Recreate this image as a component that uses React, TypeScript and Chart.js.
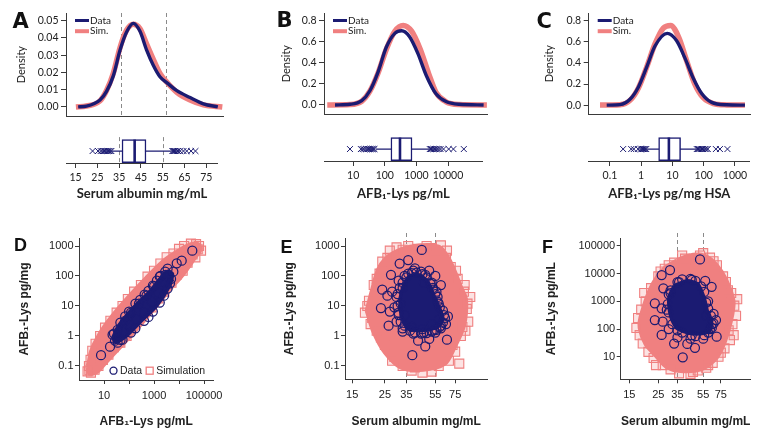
import React, { useEffect, useRef } from 'react';
import { Chart, registerables } from 'chart.js';

Chart.register(...registerables);

// ---------------- colours & fonts ----------------
const NAVY = '#1b1b72';
const PINK = '#f08080';
const PINK_FILL = 'rgba(240,128,128,0.22)';
const AXIS = '#3a3a3a';
const TEXT = '#222222';
const REF = '#8a8a8a';
const TOP_FONT = 'Lato, "Liberation Sans", sans-serif';
const BOT_FONT = '"Liberation Sans", Arial, sans-serif';

// ---------------- panel A: serum albumin density + box ----------------
const albuminDataX = [16, 19.7, 25.7, 28.6, 31.6, 34.6, 37.5, 40.5, 43.4, 46.4, 49.4, 52.3, 55.6, 59.8, 65.7, 71.6, 78];
const albuminDataDens = [0, 0.0004, 0.004, 0.009, 0.018, 0.033, 0.0435, 0.0485, 0.044, 0.033, 0.024, 0.0175, 0.0138, 0.0094, 0.0054, 0.0018, 0];
const albuminSimX = [15, 19.7, 25.7, 28.6, 31.6, 34.6, 37.5, 40.5, 43.4, 46.4, 49.4, 52.3, 55.6, 59.8, 65.7, 71.6, 80];
const albuminSimDens = [0, 0.0005, 0.0035, 0.0095, 0.0195, 0.0345, 0.0445, 0.048, 0.0455, 0.0365, 0.0275, 0.0195, 0.014, 0.0085, 0.004, 0.0012, 0];
// [whisker low, Q1, median, Q3, whisker high]
const albuminBoxStats = [31.6, 36.3, 42.1, 47.3, 59];
const albuminOutliers = [22.8, 25.3, 26.5, 27.3, 28, 28.6, 29.2, 29.8, 30.4, 31, 31.4, 59.4, 59.8, 60.2, 60.7, 61.3, 62, 63, 64.5, 66, 68, 70];
const albuminTicks = [15, 25, 35, 45, 55, 65, 75];
const albuminCutoffs = [35, 55];

// ---------------- panel B: AFB1-Lys pg/mL ----------------
const serumDataX = [2.6, 7.6, 17.4, 31, 55, 100, 182, 295, 513, 933, 1700, 3390, 6900, 17400, 100000];
const serumDataDens = [0, 0.006, 0.04, 0.135, 0.31, 0.55, 0.68, 0.705, 0.65, 0.49, 0.28, 0.106, 0.032, 0.006, 0];
const serumSimX = [1.5, 7.6, 17.4, 31, 55, 100, 182, 330, 600, 1100, 2000, 3390, 6900, 17400, 126000];
const serumSimDens = [0, 0.004, 0.035, 0.13, 0.3, 0.53, 0.7, 0.755, 0.7, 0.53, 0.3, 0.12, 0.03, 0.004, 0];
const serumBoxStats = [52.5, 156, 302, 725, 2500];
const serumOutliers = [7.9, 17.5, 20, 22.5, 26, 29, 32, 35, 38, 41, 44, 47, 2650, 2900, 3200, 3500, 3900, 4400, 5000, 5800, 7200, 10500, 14800, 31600];
const serumTicks = [10, 100, 1000, 10000];

// ---------------- panel C: AFB1-Lys pg/mg HSA ----------------
const hsaDataX = [0.0785, 0.208, 0.433, 0.796, 1.47, 2.7, 6.65, 13.2, 24.3, 44.7, 82.7, 172, 516, 1970];
const hsaDataDens = [0, 0.005, 0.055, 0.17, 0.36, 0.56, 0.68, 0.61, 0.445, 0.255, 0.11, 0.026, 0.003, 0];
const hsaSimX = [0.048, 0.208, 0.433, 0.796, 1.47, 2.7, 4.97, 8.5, 15.5, 27.5, 50, 93, 194, 516, 1970];
const hsaSimDens = [0, 0.003, 0.045, 0.16, 0.36, 0.58, 0.73, 0.755, 0.64, 0.42, 0.2, 0.07, 0.015, 0.002, 0];
const hsaBoxStats = [1.54, 3.62, 7.7, 18.2, 57];
const hsaOutliers = [0.265, 0.48, 0.58, 0.8, 0.95, 1.05, 1.15, 1.25, 1.35, 1.45, 60, 66, 72, 80, 88, 96, 108, 122, 135, 245, 330, 575];
const hsaTicks = [0.1, 1, 10, 100, 1000];

const densTicksA = [0, 0.01, 0.02, 0.03, 0.04, 0.05];
const densTicksBC = [0, 0.2, 0.4, 0.6, 0.8];

// ---------------- panel D: pg/mL vs pg/mg ----------------
type Pt = [number, number];
const simCloudD: Pt[] = [[2.3, 0.09], [3.0, 0.3], [6.5, 1.15], [22, 4.8], [100, 21], [480, 85], [2200, 300], [7500, 620], [25000, 1100], [58000, 1150], [72000, 760], [43600, 410], [14900, 115], [4370, 36], [940, 7.5], [203, 1.7], [43.6, 0.42], [12.8, 0.14], [5.1, 0.062], [2.6, 0.056]];
const simPointsD: Pt[] = [[2.2, 0.066], [2.6, 0.072], [3.0, 0.06], [2.5, 0.1], [2.9, 0.16], [3.4, 0.32], [4.2, 0.075], [4.6, 0.55], [6, 0.1], [7, 1.0], [9, 0.16], [11, 1.9], [15, 0.24], [18, 3.2], [25, 0.42], [32, 6], [45, 0.6], [55, 10], [80, 1.0], [90, 17], [130, 1.9], [160, 30], [250, 3.6], [300, 50], [450, 7], [550, 95], [800, 9], [1000, 150], [1500, 18], [1800, 260], [2600, 30], [3200, 420], [5000, 60], [6000, 560], [8000, 110], [10000, 800], [14000, 150], [16000, 1000], [22000, 280], [30000, 1200], [35000, 520], [48000, 1150], [63000, 1000], [56000, 780], [76000, 700], [45000, 420]];
const dataCoreD: Pt[] = [[22, 0.9], [37.4, 2.2], [149, 9], [692, 32], [2360, 115], [3740, 148], [5600, 118], [4365, 48], [1280, 10], [275, 2.8], [80.7, 1.0], [28, 0.6]];
const dataPointsD: Pt[] = [[7.6, 0.23], [17.4, 0.44], [27.5, 0.7], [46, 0.74], [22, 1.1], [35, 1.6], [60, 1.3], [70, 3.2], [110, 2.2], [120, 6], [200, 3.5], [250, 12], [400, 6], [500, 22], [800, 14], [1000, 45], [1500, 28], [1700, 95], [2600, 60], [2930, 108], [3500, 175], [4365, 57], [5930, 139], [8070, 264], [12800, 324], [34000, 697],
  [25, 1.2], [45, 2.8], [70, 4.5], [100, 6.5], [180, 12], [280, 16], [420, 24], [600, 32], [900, 48], [1300, 70], [1800, 100], [2800, 140],
  [4800, 80], [3500, 38], [2500, 22], [1700, 13], [900, 6.5], [600, 4.3], [400, 3.2], [180, 1.8], [120, 1.3], [55, 0.75], [35, 0.6]];
const logTicksD_X = [10, 100, 1000, 10000, 100000];
const logLabelsD_X = ['10', '', '1000', '', '100000'];
const logTicksPgMg = [0.1, 1, 10, 100, 1000];
const logLabelsPgMg = ['0.1', '1', '10', '100', '1000'];

// ---------------- panel E: albumin vs pg/mg ----------------
const simCloudE: Pt[] = [[18.8, 7], [20.3, 30], [22.8, 190], [27.5, 520], [37, 950], [58, 950], [69, 330], [82, 44], [89, 16], [86, 2.2], [74, 0.4], [64, 0.12], [45.6, 0.075], [32, 0.09], [25, 0.28], [21, 1.3]];
const simPointsE: Pt[] = [[18.3, 6], [19.5, 15], [20.5, 4], [21, 50], [22, 1.5], [23, 120], [24, 300], [25, 0.5], [27, 700], [28, 0.15], [30, 900], [33, 0.1], [36, 1000], [38, 0.07], [42, 800], [45, 0.06], [48, 1000], [52, 0.065], [55, 700], [58, 0.1], [60, 1050], [65, 400], [68, 0.15], [70, 200], [75, 0.3], [78, 80], [82, 1.0], [86, 30], [90, 8], [95, 20], [92, 3], [88, 1.5], [80, 0.12],
  [19, 10], [20, 2.5], [22, 80], [23.5, 0.9], [26, 400], [29, 0.2], [33, 750], [40, 0.09], [52, 850], [62, 0.2], [66, 700], [72, 0.5], [76, 150], [84, 2], [91, 12], [87, 50]];
const dataCoreE: Pt[] = [[33, 45], [36.5, 100], [43, 110], [49.5, 60], [54.5, 20], [60, 7], [62, 3.8], [57.5, 2], [50, 1.6], [41, 1.5], [35.5, 1.8], [32.5, 4], [31.5, 15]];
const dataPointsE: Pt[] = [[44.5, 740], [31.5, 260], [36, 340], [27.5, 110], [24, 35], [23.5, 8.5], [26, 22], [28, 30], [27, 6.5], [29, 9], [26.5, 2.2], [30, 3], [33, 1.4], [38.4, 0.23], [42, 0.7], [47, 0.45], [50, 0.8], [55, 1.3], [60, 1.8], [66, 0.75], [65, 2.5], [67, 4.5], [62, 7], [58, 3.5], [60, 50], [55, 100], [50, 150], [44, 140], [40, 180], [36, 120], [33, 40], [32, 12], [34, 5], [38, 2], [45, 1.7], [52, 2.5], [57, 20], [53, 40], [46, 60],
  [31, 70], [34, 100], [39, 150], [47, 110], [52, 60], [56, 30], [58, 12], [63, 5], [60, 2.2], [54, 1.6], [46, 1.3], [39, 1.2], [33, 1.8], [31, 5], [30, 20],
  [33, 60], [35, 90], [38, 125], [41, 130], [45, 115], [48, 90], [51, 55], [53, 35], [55, 25], [57, 14], [59, 9], [64, 4], [62, 2.8], [59, 2], [56, 1.6], [52, 1.4], [48, 1.25], [44, 1.2], [40, 1.3], [37, 1.5], [34, 2.2], [32, 3], [31, 6], [30.5, 10], [30.5, 25], [31.5, 40]];
const albuminLogTicks = [15, 25, 35, 55, 75];
const albuminLogLabels = ['15', '25', '35', '55', '75'];

// ---------------- panel F: albumin vs pg/mL ----------------
const simCloudF: Pt[] = [[34.5, 30000], [27.5, 15000], [22, 3300], [18.3, 280], [18, 110], [20, 28], [23.5, 12], [29, 4.2], [38.7, 3.0], [53, 3.5], [66, 7], [75, 16], [86, 90], [94, 850], [87, 3300], [76, 12000], [63, 33000], [53, 48000], [42, 44000]];
const simPointsF: Pt[] = [[17, 110], [17.5, 250], [18, 60], [19, 30], [20, 1000], [21, 15], [22, 3000], [23, 9], [25, 8000], [27, 5], [28, 15000], [31, 3.5], [33, 25000], [36, 2.5], [40, 35000], [44, 2.4], [48, 30000], [50, 3.2], [55, 55000], [58, 4], [62, 38000], [65, 6], [70, 20000], [72, 10], [78, 8000], [80, 20], [85, 2500], [88, 40], [95, 700], [98, 300], [92, 150], [100, 1200], [86, 90],
  [18.5, 500], [19.5, 2000], [24, 5], [26, 12000], [30, 20000], [38, 45000], [46, 2.8], [52, 45000], [60, 5], [66, 28000], [75, 14], [82, 5000], [90, 2000], [94, 60]];
const dataCoreF: Pt[] = [[33, 3800], [41, 5600], [50, 4400], [56, 1400], [60, 380], [64, 210], [62, 85], [52, 66], [42, 72], [34.5, 105], [31, 280], [30, 1400]];
const dataPointsF: Pt[] = [[52, 32800], [30.7, 13500], [26.5, 8900], [27.3, 2950], [23.5, 850], [26.5, 560], [23.5, 211], [27, 184], [26.5, 61], [38.4, 9.5], [41.6, 29], [47.6, 21], [69.7, 53], [68.9, 211], [63.8, 3370], [57, 5500], [45, 6000], [36, 5000], [31, 2000], [29, 500], [30, 100], [35, 50], [44, 45], [55, 45], [62, 100], [66, 350], [60, 1000], [64, 150], [33, 30], [58, 300],
  [31, 2500], [35, 5000], [38, 6200], [44, 6500], [48, 5500], [53, 3500], [56, 2200], [58, 900], [60, 550], [63, 300], [66, 160], [64, 110], [60, 75], [56, 60], [48, 55], [45, 60], [38, 75], [35, 90], [32, 150], [30, 400], [29.5, 800], [30, 1800]];
const logTicksPgMl = [10, 100, 1000, 10000, 100000];
const logLabelsPgMl = ['10', '100', '1000', '10000', '100000'];

// ---------------- helpers ----------------
interface Frame { left: number; top: number; width: number; height: number; area: { l: number; t: number; r: number; b: number } }
const zipXY = (xs: number[], ys: number[]) => xs.map((x, i) => ({ x, y: ys[i] }));
const toXY = (pts: Pt[]) => pts.map(([x, y]) => ({ x, y }));
const loop = (pts: Pt[]) => toXY([...pts, pts[0]]);

const topTick = { family: TOP_FONT, size: 10.5 };
const topTitle = { family: TOP_FONT, size: 13, weight: 'bold' as const };
const topYTitle = { family: TOP_FONT, size: 11 };
const botTick = { family: BOT_FONT, size: 11 };
const botTitle = { family: BOT_FONT, size: 12, weight: 'bold' as const };

const axisGrid = (len: number) => ({ display: true, drawOnChartArea: false, drawTicks: true, tickLength: len, color: AXIS, lineWidth: 1 });
const axisBorder = { display: true, color: AXIS, width: 1 };

function refLinesPlugin(values: number[], extendTop: number) {
  return {
    id: 'refLines',
    beforeDatasetsDraw(chart: any) {
      const { ctx, chartArea, scales } = chart;
      ctx.save();
      ctx.strokeStyle = REF;
      ctx.lineWidth = 1;
      ctx.setLineDash([4, 3]);
      for (const v of values) {
        const px = Math.round(scales.x.getPixelForValue(v)) + 0.5;
        ctx.beginPath();
        ctx.moveTo(px, chartArea.top - extendTop);
        ctx.lineTo(px, chartArea.bottom);
        ctx.stroke();
      }
      ctx.restore();
    },
  };
}

interface LegendItem { text: string; kind: 'line' | 'circle' | 'rect'; color: string; width: number; fill?: string }
function legendPlugin(items: LegendItem[], o: { dx: number; dy: number; fromBottom: boolean; horizontal: boolean; font: string; swatch: number; gap: number; step: number }) {
  return {
    id: 'inlineLegend',
    afterDatasetsDraw(chart: any) {
      const { ctx, chartArea } = chart;
      ctx.save();
      ctx.font = o.font;
      ctx.textBaseline = 'middle';
      ctx.textAlign = 'left';
      let x = chartArea.left + o.dx;
      let y = (o.fromBottom ? chartArea.bottom : chartArea.top) + o.dy;
      for (const it of items) {
        ctx.strokeStyle = it.color;
        ctx.lineWidth = it.width;
        if (it.kind === 'line') {
          ctx.beginPath();
          ctx.moveTo(x, y);
          ctx.lineTo(x + o.swatch, y);
          ctx.stroke();
        } else if (it.kind === 'circle') {
          const r = o.swatch / 2;
          ctx.beginPath();
          ctx.arc(x + r, y, r - 0.5, 0, Math.PI * 2);
          ctx.stroke();
        } else {
          ctx.fillStyle = it.fill || 'transparent';
          ctx.fillRect(x, y - o.swatch / 2, o.swatch, o.swatch);
          ctx.strokeRect(x + 0.5, y - o.swatch / 2 + 0.5, o.swatch - 1, o.swatch - 1);
        }
        ctx.fillStyle = TEXT;
        ctx.fillText(it.text, x + o.swatch + o.gap, y);
        if (o.horizontal) x += o.swatch + o.gap + ctx.measureText(it.text).width + o.step;
        else y += o.step;
      }
      ctx.restore();
    },
  };
}

function densityConfig(f: Frame, p: { xType: string; xMin: number; xMax: number; yMin: number; yMax: number; yTicks: number[]; digits: number; yTitleX: number; data: any[]; sim: any[]; refs: number[] }) {
  return {
    type: 'line',
    data: {
      datasets: [
        { label: 'Data', data: p.data, borderColor: NAVY, backgroundColor: NAVY, borderWidth: 3.4, pointRadius: 0, cubicInterpolationMode: 'monotone', order: 0 },
        { label: 'Sim.', data: p.sim, borderColor: PINK, backgroundColor: PINK, borderWidth: 5.5, pointRadius: 0, cubicInterpolationMode: 'monotone', order: 1 },
      ],
    },
    options: {
      responsive: false, animation: false, events: [],
      layout: { padding: { left: 0, right: f.left + f.width - f.area.r, top: f.area.t - f.top, bottom: 0 } },
      plugins: { legend: { display: false }, tooltip: { enabled: false } },
      scales: {
        x: {
          type: p.xType, min: p.xMin, max: p.xMax,
          afterFit: (s: any) => { s.height = f.top + f.height - f.area.b; },
          ticks: { display: false }, grid: { display: false }, border: axisBorder,
        },
        y: {
          type: 'linear', min: p.yMin, max: p.yMax,
          afterBuildTicks: (s: any) => { s.ticks = p.yTicks.map((v) => ({ value: v })); },
          afterFit: (s: any) => { s.width = f.area.l - f.left; },
          ticks: { font: topTick, color: TEXT, padding: 2.5, callback: (v: any) => Number(v).toFixed(p.digits) },
          grid: axisGrid(5), border: axisBorder,
          title: { display: true, text: 'Density', font: topYTitle, color: TEXT, padding: { top: p.yTitleX - f.left - 6.6, bottom: 0 } },
        },
      },
    },
    plugins: [
      refLinesPlugin(p.refs, 0),
      legendPlugin(
        [
          { text: 'Data', kind: 'line', color: NAVY, width: 3 },
          { text: 'Sim.', kind: 'line', color: PINK, width: 4 },
        ],
        { dx: 9, dy: 7.5, fromBottom: false, horizontal: false, font: `10px ${TOP_FONT}`, swatch: 14, gap: 1, step: 10.7 },
      ),
    ],
  };
}

function boxConfig(f: Frame, p: { xType: string; xMin: number; xMax: number; ticks: number[]; labels: string[]; stats: number[]; outliers: number[]; title: string; refs: number[] }) {
  const [wLo, q1, med, q3, wHi] = p.stats;
  return {
    type: 'scatter',
    data: {
      datasets: [
        { type: 'scatter', label: 'median', data: [{ x: med, y: 0 }], pointStyle: 'line', pointRotation: 90, pointRadius: 11.5, pointBorderWidth: 2.6, pointBorderColor: NAVY, order: 0 },
        { type: 'bar', label: 'IQR', indexAxis: 'y', data: [{ x: [q1, q3], y: 0 }], backgroundColor: '#ffffff', borderColor: NAVY, borderWidth: 1.5, borderSkipped: false, barThickness: 23, order: 1 },
        { type: 'scatter', label: 'whiskers', showLine: true, data: [{ x: wLo, y: 0 }, { x: wHi, y: 0 }], borderColor: NAVY, borderWidth: 1.2, pointRadius: 0, order: 2 },
        { type: 'scatter', label: 'outliers', data: p.outliers.map((v) => ({ x: v, y: 0 })), pointStyle: 'crossRot', pointRadius: 4.2, pointBorderWidth: 1, pointBorderColor: NAVY, order: 3 },
      ],
    },
    options: {
      responsive: false, animation: false, events: [],
      layout: { padding: { left: f.area.l - f.left, right: f.left + f.width - f.area.r, top: f.area.t - f.top, bottom: 0 } },
      plugins: { legend: { display: false }, tooltip: { enabled: false } },
      scales: {
        x: {
          type: p.xType, min: p.xMin, max: p.xMax,
          afterBuildTicks: (s: any) => { s.ticks = p.ticks.map((v) => ({ value: v })); },
          afterFit: (s: any) => { s.height = f.top + f.height - f.area.b; },
          ticks: { font: topTick, color: TEXT, padding: 3.5, autoSkip: false, maxRotation: 0, callback: (_v: any, i: number) => p.labels[i] },
          grid: axisGrid(5), border: axisBorder,
          title: { display: true, text: p.title, font: topTitle, color: TEXT, padding: { top: 0, bottom: 3.2 } },
        },
        y: { type: 'linear', min: -1, max: 1, display: false },
      },
    },
    plugins: [refLinesPlugin(p.refs, 2)],
  };
}

function scatterConfig(f: Frame, p: {
  xType: string; xMin: number; xMax: number; xTicks: number[]; xLabels: string[]; xTitle: string;
  yMin: number; yMax: number; yTicks: number[]; yLabels: string[]; yTitle: string; yTitleX: number;
  simCloud: Pt[]; simPts: Pt[]; core: Pt[]; dataPts: Pt[]; refs: number[]; legend: boolean;
}) {
  const plugins: any[] = [refLinesPlugin(p.refs, 5)];
  if (p.legend) {
    plugins.push(legendPlugin(
      [
        { text: 'Data', kind: 'circle', color: NAVY, width: 1.3 },
        { text: 'Simulation', kind: 'rect', color: PINK, width: 1.3, fill: 'rgba(255,255,255,0)' },
      ],
      { dx: 30.5, dy: -9.3, fromBottom: true, horizontal: true, font: `10.5px ${BOT_FONT}`, swatch: 8, gap: 2.5, step: 3.5 },
    ));
  }
  return {
    type: 'scatter',
    data: {
      datasets: [
        { label: 'Data', data: toXY(p.dataPts), pointStyle: 'circle', pointRadius: 4.5, pointBorderWidth: 1.25, pointBorderColor: NAVY, pointBackgroundColor: 'rgba(0,0,0,0)', order: 1 },
        { label: 'Data (dense)', data: loop(p.core), showLine: true, fill: 'shape', tension: 0.25, backgroundColor: NAVY, borderColor: NAVY, borderWidth: 3, pointRadius: 0, order: 2 },
        { label: 'Simulation', data: toXY(p.simPts), pointStyle: 'rect', pointRadius: 6.4, pointBorderWidth: 1.1, pointBorderColor: PINK, pointBackgroundColor: PINK_FILL, order: 3 },
        { label: 'Simulation (dense)', data: loop(p.simCloud), showLine: true, fill: 'shape', tension: 0.3, backgroundColor: PINK, borderColor: PINK, borderWidth: 4, pointRadius: 0, order: 4 },
      ],
    },
    options: {
      responsive: false, animation: false, events: [],
      layout: { padding: { left: 0, right: f.left + f.width - f.area.r, top: f.area.t - f.top, bottom: 0 } },
      plugins: { legend: { display: false }, tooltip: { enabled: false } },
      scales: {
        x: {
          type: p.xType, min: p.xMin, max: p.xMax,
          afterBuildTicks: (s: any) => { s.ticks = p.xTicks.map((v) => ({ value: v })); },
          afterFit: (s: any) => { s.height = f.top + f.height - f.area.b; },
          ticks: { font: botTick, color: TEXT, padding: 5.5, autoSkip: false, maxRotation: 0, callback: (_v: any, i: number) => p.xLabels[i] },
          grid: axisGrid(4), border: axisBorder,
          title: { display: true, text: p.xTitle, font: botTitle, color: TEXT, padding: { top: 0, bottom: 11 } },
        },
        y: {
          type: 'logarithmic', min: p.yMin, max: p.yMax,
          afterBuildTicks: (s: any) => { s.ticks = p.yTicks.map((v) => ({ value: v })); },
          afterFit: (s: any) => { s.width = f.area.l - f.left; },
          ticks: { font: botTick, color: TEXT, padding: 1.5, autoSkip: false, callback: (_v: any, i: number) => p.yLabels[i] },
          grid: axisGrid(4), border: axisBorder,
          title: { display: true, text: p.yTitle, font: botTitle, color: TEXT, padding: { top: p.yTitleX - f.left - 7.2, bottom: 0 } },
        },
      },
    },
    plugins,
  };
}

// ---------------- frames ----------------
const fDensA: Frame = { left: 0, top: 0, width: 232, height: 125, area: { l: 66, t: 13, r: 223, b: 124 } };
const fBoxA: Frame = { left: 0, top: 125, width: 232, height: 80, area: { l: 66, t: 125, r: 223, b: 163 } };
const fDensB: Frame = { left: 250, top: 0, width: 247, height: 123, area: { l: 324, t: 13, r: 487, b: 122 } };
const fBoxB: Frame = { left: 250, top: 123, width: 247, height: 82, area: { l: 324, t: 124, r: 487, b: 161 } };
const fDensC: Frame = { left: 510, top: 0, width: 254, height: 123, area: { l: 588.7, t: 13, r: 750.7, b: 122 } };
const fBoxC: Frame = { left: 510, top: 123, width: 254, height: 82, area: { l: 588.7, t: 124, r: 750.7, b: 161 } };
const fD: Frame = { left: 0, top: 228, width: 232, height: 212, area: { l: 79, t: 238, r: 213.3, b: 380 } };
const fE: Frame = { left: 250, top: 228, width: 250, height: 212, area: { l: 345, t: 238, r: 487.3, b: 379.3 } };
const fF: Frame = { left: 510, top: 228, width: 254, height: 212, area: { l: 620.7, t: 238, r: 750.7, b: 379.3 } };

const AFB = 'AFB\u2081-Lys';

const panels: { frame: Frame; build: () => any }[] = [
  { frame: fDensA, build: () => densityConfig(fDensA, { xType: 'linear', xMin: 10.6, xMax: 80.3, yMin: -0.0054, yMax: 0.0545, yTicks: densTicksA, digits: 2, yTitleX: 21, data: zipXY(albuminDataX, albuminDataDens), sim: zipXY(albuminSimX, albuminSimDens), refs: albuminCutoffs }) },
  { frame: fBoxA, build: () => boxConfig(fBoxA, { xType: 'linear', xMin: 10.6, xMax: 80.3, ticks: albuminTicks, labels: albuminTicks.map(String), stats: albuminBoxStats, outliers: albuminOutliers, title: 'Serum albumin mg/mL', refs: albuminCutoffs }) },
  { frame: fDensB, build: () => densityConfig(fDensB, { xType: 'logarithmic', xMin: 1.19, xMax: 127000, yMin: -0.088, yMax: 0.873, yTicks: densTicksBC, digits: 1, yTitleX: 286, data: zipXY(serumDataX, serumDataDens), sim: zipXY(serumSimX, serumSimDens), refs: [] }) },
  { frame: fBoxB, build: () => boxConfig(fBoxB, { xType: 'logarithmic', xMin: 1.19, xMax: 127000, ticks: serumTicks, labels: serumTicks.map(String), stats: serumBoxStats, outliers: serumOutliers, title: `${AFB} pg/mL`, refs: [] }) },
  { frame: fDensC, build: () => densityConfig(fDensC, { xType: 'logarithmic', xMin: 0.021, xMax: 3000, yMin: -0.086, yMax: 0.873, yTicks: densTicksBC, digits: 1, yTitleX: 549.3, data: zipXY(hsaDataX, hsaDataDens), sim: zipXY(hsaSimX, hsaSimDens), refs: [] }) },
  { frame: fBoxC, build: () => boxConfig(fBoxC, { xType: 'logarithmic', xMin: 0.021, xMax: 3000, ticks: hsaTicks, labels: hsaTicks.map(String), stats: hsaBoxStats, outliers: hsaOutliers, title: `${AFB} pg/mg HSA`, refs: [] }) },
  { frame: fD, build: () => scatterConfig(fD, { xType: 'logarithmic', xMin: 1, xMax: 235000, xTicks: logTicksD_X, xLabels: logLabelsD_X, xTitle: `${AFB} pg/mL`, yMin: 0.0341, yMax: 1848, yTicks: logTicksPgMg, yLabels: logLabelsPgMg, yTitle: `${AFB} pg/mg`, yTitleX: 25, simCloud: simCloudD, simPts: simPointsD, core: dataCoreD, dataPts: dataPointsD, refs: [], legend: true }) },
  { frame: fE, build: () => scatterConfig(fE, { xType: 'logarithmic', xMin: 13.4, xMax: 124, xTicks: albuminLogTicks, xLabels: albuminLogLabels, xTitle: 'Serum albumin mg/mL', yMin: 0.036, yMax: 1848, yTicks: logTicksPgMg, yLabels: logLabelsPgMg, yTitle: `${AFB} pg/mg`, yTitleX: 290, simCloud: simCloudE, simPts: simPointsE, core: dataCoreE, dataPts: dataPointsE, refs: albuminCutoffs, legend: false }) },
  { frame: fF, build: () => scatterConfig(fF, { xType: 'logarithmic', xMin: 12.9, xMax: 126.8, xTicks: albuminLogTicks, xLabels: albuminLogLabels, xTitle: 'Serum albumin mg/mL', yMin: 1.53, yMax: 194500, yTicks: logTicksPgMl, yLabels: logLabelsPgMl, yTitle: `${AFB} pg/mL`, yTitleX: 551.7, simCloud: simCloudF, simPts: simPointsF, core: dataCoreF, dataPts: dataPointsF, refs: albuminCutoffs, legend: false }) },
];

const letters = [
  { t: 'A', x: 12.5, y: 10.8, size: 21, family: '"DejaVu Sans", sans-serif' },
  { t: 'B', x: 276.5, y: 10.2, size: 21, family: '"DejaVu Sans", sans-serif' },
  { t: 'C', x: 536.5, y: 10.5, size: 21, family: '"DejaVu Sans", sans-serif' },
  { t: 'D', x: 14, y: 236, size: 18, family: BOT_FONT },
  { t: 'E', x: 280.5, y: 237.7, size: 18, family: BOT_FONT },
  { t: 'F', x: 542, y: 237.7, size: 18, family: BOT_FONT },
];

function ChartCanvas({ frame, build }: { frame: Frame; build: () => any }) {
  const ref = useRef<HTMLCanvasElement>(null);
  useEffect(() => {
    if (!ref.current) return;
    const chart = new Chart(ref.current, build());
    return () => chart.destroy();
  }, []);
  return (
    <canvas
      ref={ref}
      width={frame.width}
      height={frame.height}
      style={{ position: 'absolute', left: frame.left, top: frame.top, width: frame.width, height: frame.height }}
    />
  );
}

export default function App() {
  return (
    <div style={{ position: 'absolute', left: 0, top: 0, width: 764, height: 440, background: '#ffffff', overflow: 'hidden' }}>
      {panels.map((p, i) => (
        <ChartCanvas key={i} frame={p.frame} build={p.build} />
      ))}
      {letters.map((l) => (
        <div
          key={l.t}
          style={{ position: 'absolute', left: l.x, top: l.y, fontFamily: l.family, fontWeight: 'bold', fontSize: l.size, lineHeight: `${l.size}px`, color: '#111' }}
        >
          {l.t}
        </div>
      ))}
    </div>
  );
}
